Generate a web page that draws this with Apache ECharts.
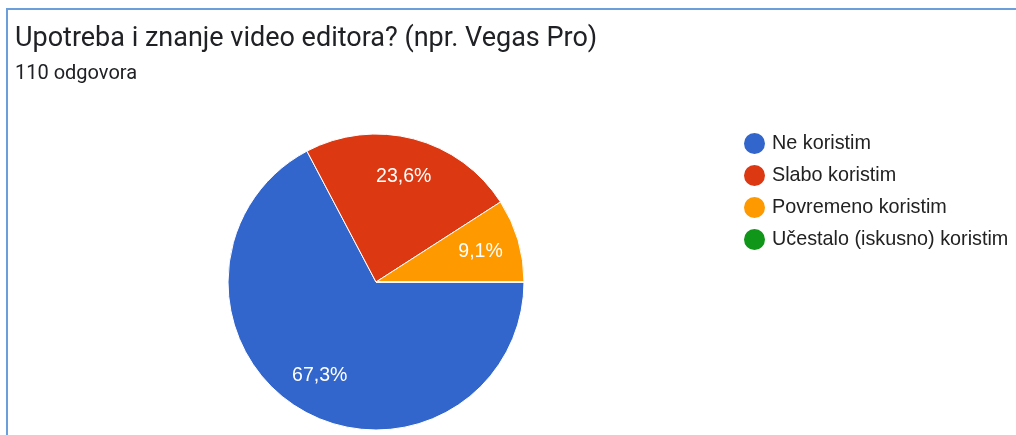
<!DOCTYPE html>
<html>
<head>
<meta charset="utf-8">
<script src="https://cdn.jsdelivr.net/npm/echarts@6/dist/echarts.min.js"></script>
<style>
  html, body { margin: 0; padding: 0; background: #fff; }
  #chart { width: 1016px; height: 435px; }
</style>
</head>
<body>
<div id="chart"></div>
<script>
  // odgovori po kategoriji (ukupno 110)
  const categories = ['Ne koristim', 'Slabo koristim', 'Povremeno koristim', 'Učestalo (iskusno) koristim'];
  const counts = [74, 26, 10, 0];
  const colors = ['#3366cc', '#dc3912', '#ff9900', '#109618'];
  const total = counts.reduce((a, b) => a + b, 0);

  const chart = echarts.init(document.getElementById('chart'));
  const pieData = categories.map((name, i) => ({
    name: name,
    value: counts[i],
    itemStyle: { color: colors[i] }
  }));

  const option = {
    animation: false,
    title: [
      {
        text: 'Upotreba i znanje video editora? (npr. Vegas Pro)',
        left: 10,
        top: 21,
        textStyle: { fontFamily: 'Roboto', fontSize: 27, fontWeight: 'normal', color: '#202124' }
      },
      {
        text: total + ' odgovora',
        left: 10,
        top: 59,
        textStyle: { fontFamily: 'Roboto', fontSize: 20, fontWeight: 'normal', color: '#202124' }
      }
    ],
    legend: {
      orient: 'vertical',
      left: 737,
      top: 126,
      icon: 'circle',
      itemWidth: 23,
      itemHeight: 23,
      itemGap: 7,
      data: categories,
      textStyle: { fontFamily: 'Liberation Sans', fontSize: 19.8, color: '#222', padding: [0, 0, 0, 1] }
    },
    series: [
      {
        type: 'pie',
        center: [376, 282],
        radius: [0, 148],
        startAngle: 0,
        clockwise: true,
        silent: true,
        itemStyle: { borderColor: '#fff', borderWidth: 1 },
        label: { show: false },
        labelLine: { show: false },
        data: pieData
      },
      {
        // samo za oznake postotaka (sredina prstena = ~106px od središta)
        type: 'pie',
        center: [376, 282],
        radius: [64, 148],
        startAngle: 0,
        clockwise: true,
        silent: true,
        legendHoverLink: false,
        itemStyle: { color: 'transparent', borderWidth: 0 },
        label: {
          show: true,
          position: 'inside',
          fontFamily: 'Liberation Sans',
          fontSize: 19.5,
          color: '#fff',
          formatter: function (p) {
            if (!p.value) return '';
            return (p.value / total * 100).toFixed(1).replace('.', ',') + '%';
          }
        },
        labelLine: { show: false },
        data: categories.map((name, i) => ({ name: name, value: counts[i] }))
      }
    ],
    graphic: [
      {
        type: 'rect',
        silent: true,
        shape: { x: 7, y: 9, width: 1100, height: 500 },
        style: { fill: 'none', stroke: '#6a9fdc', lineWidth: 2 }
      }
    ]
  };
  chart.setOption(option);
</script>
</body>
</html>
